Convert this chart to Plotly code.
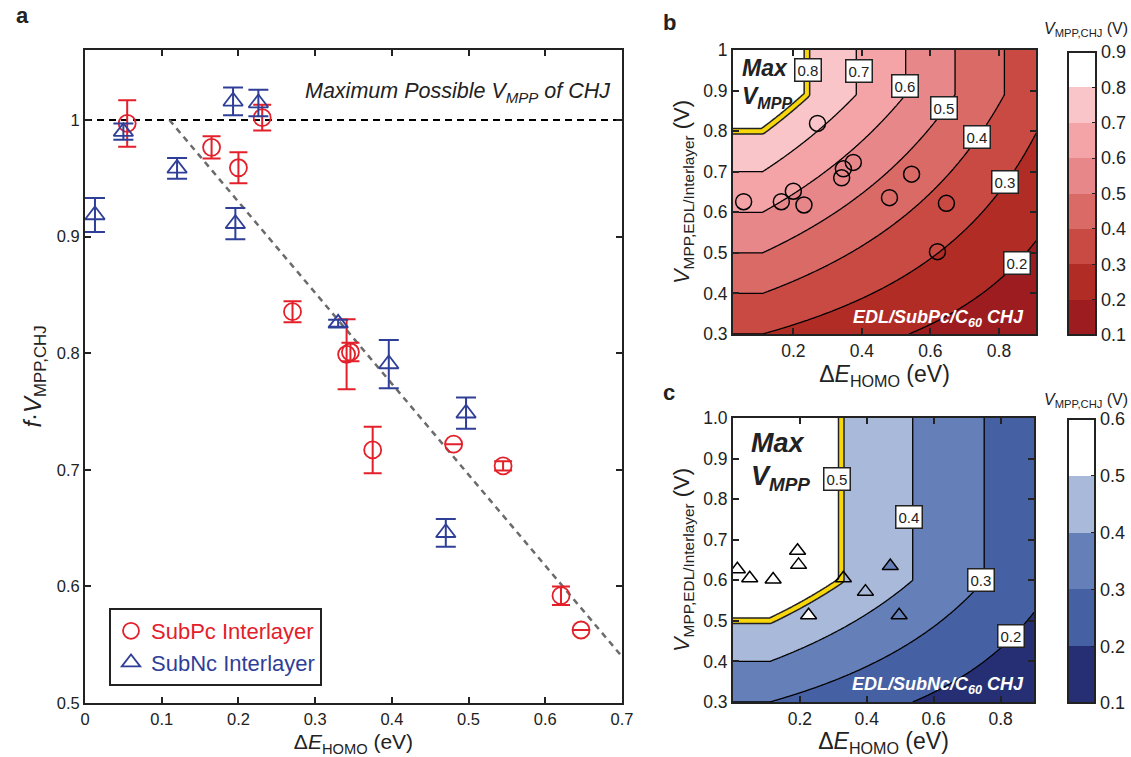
import numpy as np
import plotly.graph_objects as go

W, H = 1131, 757
FONT = "Liberation Sans, Arial, Helvetica, sans-serif"

# ---------------- data ----------------
# SubPc interlayer (red circles)
subpc_dE = [0.055, 0.165, 0.200, 0.231, 0.2705, 0.341, 0.346, 0.375, 0.4805, 0.545, 0.6205, 0.6466]
subpc_fV = [0.997, 0.9765, 0.959, 1.002, 0.8356, 0.799, 0.801, 0.717, 0.722, 0.7033, 0.592, 0.5626]
subpc_err = [0.020, 0.0095, 0.0133, 0.011, 0.009, 0.030, 0.008, 0.020, 0.0, 0.004, 0.008, 0.0]
subpc_Vedl = [0.626, 0.626, 0.652, 0.618, 0.819, 0.685, 0.707, 0.723, 0.636, 0.694, 0.503, 0.622]

# SubNc interlayer (blue triangles)
subnc_dE = [0.013, 0.050, 0.120, 0.193, 0.196, 0.226, 0.330, 0.396, 0.4703, 0.4967]
subnc_fV = [0.9185, 0.990, 0.9585, 1.016, 0.911, 1.0145, 0.8256, 0.7907, 0.646, 0.7485]
subnc_err = [0.0146, 0.007, 0.0089, 0.0119, 0.0134, 0.0114, 0.003, 0.0207, 0.0119, 0.0134]
subnc_Vedl = [0.627, 0.605, 0.602, 0.673, 0.638, 0.514, 0.605, 0.572, 0.635, 0.514]

# model parameters (loss factor vs HOMO offset)
dE_onset = 0.11
loss_slope = 0.78
Vcap_subpc = 0.89
Vcap_subnc = 0.60

# contour levels / colours
levels_b = [0.1, 0.2, 0.3, 0.4, 0.5, 0.6, 0.7, 0.8, 0.9]
colors_b = ["#9c1c1f", "#b22c26", "#c84a43", "#d96a66", "#e8878a", "#f4a3a7", "#f9c5c8", "#ffffff"]
levels_c = [0.1, 0.2, 0.3, 0.4, 0.5, 0.6]
colors_c = ["#262f73", "#4560a3", "#6580b9", "#a8b9d9", "#ffffff"]

subnc_fill = ["#ffffff", "#ffffff", "#ffffff", "#ffffff", "#ffffff", "#ffffff",
              "rgba(0,0,0,0)", "rgba(0,0,0,0)", "#6580b9", "rgba(0,0,0,0)"]

RED = "#e3202a"
BLUE = "#2f3f98"


def loss(dE):
    dE = np.asarray(dE, dtype=float)
    return np.minimum(1.0, 1.0 - loss_slope * (dE - dE_onset))


def surface(xr, yr, cap, n=301):
    xs = np.linspace(xr[0], xr[1], n)
    ys = np.linspace(yr[0], yr[1], n)
    X, Y = np.meshgrid(xs, ys)
    Z = np.minimum(Y, cap) * loss(X)
    return xs, ys, Z


def stepped(colors):
    n = len(colors)
    cs = []
    for i, c in enumerate(colors):
        cs.append([i / n, c])
        cs.append([(i + 1) / n, c])
    return cs


def fill_scale(colors):
    # contour fill samples band midpoints at s=(k+1)/nb
    nb = len(colors)
    cs = [[0.0, colors[0]]]
    for k, c in enumerate(colors):
        cs.append([(k + 1) / nb, c])
    return cs


fig = go.Figure()

# ---------------- panel a ----------------
xa = [0, 0.7]
fig.add_trace(go.Scatter(x=xa, y=[1, 1], mode="lines", showlegend=False,
                         line=dict(color="black", width=2, dash="7px,5px"), xaxis="x", yaxis="y"))
xl = np.array([dE_onset, 0.7])
fig.add_trace(go.Scatter(x=xl, y=loss(xl), mode="lines", showlegend=False,
                         line=dict(color="#6b6b6b", width=2.5, dash="6px,5px"), xaxis="x", yaxis="y"))
fig.add_trace(go.Scatter(
    x=subpc_dE, y=subpc_fV, mode="markers", name="<span style='color:%s'>SubPc Interlayer</span>" % RED,
    marker=dict(symbol="circle-open", size=17, color=RED, line=dict(width=1.8, color=RED)),
    error_y=dict(type="data", array=subpc_err, color=RED, thickness=2, width=9),
    xaxis="x", yaxis="y"))
fig.add_trace(go.Scatter(
    x=subnc_dE, y=subnc_fV, mode="markers", name="<span style='color:%s'>SubNc Interlayer</span>" % BLUE,
    marker=dict(symbol="triangle-up-open", size=17, color=BLUE, line=dict(width=1.8, color=BLUE)),
    error_y=dict(type="data", array=subnc_err, color=BLUE, thickness=2, width=10),
    xaxis="x", yaxis="y"))

# ---------------- panel b ----------------
xr_b = [0.024, 0.908]
xs, ys, Zb = surface(xr_b, [0.3, 1.0], Vcap_subpc)
fig.add_trace(go.Contour(
    x=xs, y=ys, z=Zb, autocontour=False, showlegend=False,
    contours=dict(start=levels_b[0], end=levels_b[-2], size=0.1, coloring="fill"),
    colorscale=fill_scale(colors_b), showscale=False,
    line=dict(color="black", width=1.3), xaxis="x2", yaxis="y2", hoverinfo="skip"))
for col, wd in (("#222222", 7), ("#f7d70c", 4)):
    fig.add_trace(go.Contour(
        x=xs, y=ys, z=Zb, autocontour=False, showlegend=False,
        contours=dict(start=0.8, end=0.8, size=0.1, coloring="none"),
        showscale=False, line=dict(color=col, width=wd), xaxis="x2", yaxis="y2", hoverinfo="skip"))
fig.add_trace(go.Scatter(
    x=subpc_dE, y=subpc_Vedl, mode="markers", showlegend=False,
    marker=dict(symbol="circle", size=16, color="rgba(0,0,0,0)", line=dict(width=1.5, color="black")),
    xaxis="x2", yaxis="y2"))
fig.add_trace(go.Scatter(
    x=[None], y=[None], mode="markers", showlegend=False, xaxis="x2", yaxis="y2",
    marker=dict(color=[0.5], cmin=levels_b[0], cmax=levels_b[-1], colorscale=stepped(colors_b), showscale=True,
                colorbar=dict(x=1068 / W, xanchor="left", xpad=0, ypad=0, thickness=28, thicknessmode="pixels",
                              len=(335 - 52) / H, lenmode="fraction", y=1 - (52 + 335) / 2 / H, yanchor="middle",
                              outlinewidth=2, outlinecolor="#222", tickvals=levels_b, ticks="inside",
                              ticklen=5, tickcolor="#222", tickfont=dict(size=18, family=FONT, color="#222")))))

# ---------------- panel c ----------------
xr_c = [0.0, 0.9]
xs, ys, Zc = surface(xr_c, [0.3, 1.0], Vcap_subnc)
fig.add_trace(go.Contour(
    x=xs, y=ys, z=Zc, autocontour=False, showlegend=False,
    contours=dict(start=levels_c[0], end=levels_c[-2], size=0.1, coloring="fill"),
    colorscale=fill_scale(colors_c), showscale=False,
    line=dict(color="black", width=1.3), xaxis="x3", yaxis="y3", hoverinfo="skip"))
for col, wd in (("#222222", 7), ("#f7d70c", 4)):
    fig.add_trace(go.Contour(
        x=xs, y=ys, z=Zc, autocontour=False, showlegend=False,
        contours=dict(start=0.5, end=0.5, size=0.1, coloring="none"),
        showscale=False, line=dict(color=col, width=wd), xaxis="x3", yaxis="y3", hoverinfo="skip"))
fig.add_trace(go.Scatter(
    x=subnc_dE, y=subnc_Vedl, mode="markers", showlegend=False,
    marker=dict(symbol="triangle-up", size=14, color=subnc_fill, line=dict(width=1.5, color="black")),
    xaxis="x3", yaxis="y3"))
fig.add_trace(go.Scatter(
    x=[None], y=[None], mode="markers", showlegend=False, xaxis="x3", yaxis="y3",
    marker=dict(color=[0.3], cmin=levels_c[0], cmax=levels_c[-1], colorscale=stepped(colors_c), showscale=True,
                colorbar=dict(x=1068 / W, xanchor="left", xpad=0, ypad=0, thickness=27, thicknessmode="pixels",
                              len=(703 - 419) / H, lenmode="fraction", y=1 - (419 + 703) / 2 / H, yanchor="middle",
                              outlinewidth=2, outlinecolor="#222", tickvals=levels_c, ticks="inside",
                              ticklen=5, tickcolor="#222", tickfont=dict(size=18, family=FONT, color="#222")))))

# ---------------- layout ----------------
def ax(domain, rng, tickvals, ticktext, size, title, tsize, standoff, anchor):
    return dict(domain=domain, range=rng, tickvals=tickvals, ticktext=ticktext, showgrid=False, zeroline=False,
                anchor=anchor, automargin=False,
                showline=True, linecolor="#222", linewidth=2, mirror="ticks", ticks="inside", ticklen=6,
                tickwidth=1.5, tickcolor="#222", tickfont=dict(size=size, family=FONT, color="#222"),
                title=dict(text=title, font=dict(size=tsize, family=FONT, color="#222"), standoff=standoff))

xt_a = [0, 0.1, 0.2, 0.3, 0.4, 0.5, 0.6, 0.7]
yt_a = [0.5, 0.6, 0.7, 0.8, 0.9, 1.0]
xt_bc = [0.2, 0.4, 0.6, 0.8]
yt_bc = [0.3, 0.4, 0.5, 0.6, 0.7, 0.8, 0.9, 1.0]
dEtitle = "Δ<i>E</i><sub>HOMO</sub> (eV)"
Vtitle = "<i>V</i><sub>MPP,EDL/Interlayer</sub> (V)"

fig.update_layout(
    width=W, height=H, margin=dict(l=0, r=0, t=0, b=0, autoexpand=False),
    paper_bgcolor="white", plot_bgcolor="white",
    font=dict(family=FONT, color="#222"),
    xaxis=ax([85 / W, 622 / W], [0, 0.7], xt_a, ["0", "0.1", "0.2", "0.3", "0.4", "0.5", "0.6", "0.7"], 16.5,
             dEtitle, 21, 8, "y"),
    yaxis=ax([1 - 703 / H, 1 - 50 / H], [0.5, 1.06], yt_a, ["0.5", "0.6", "0.7", "0.8", "0.9", "1"], 16.5,
             "<i>f</i>·<i>V</i><sub>MPP,CHJ</sub>", 24, 8, "x"),
    xaxis2=ax([733 / W, 1036 / W], xr_b, xt_bc, ["0.2", "0.4", "0.6", "0.8"], 17.5, dEtitle, 23, 2, "y2"),
    yaxis2=ax([1 - 334 / H, 1 - 50 / H], [0.3, 1.0], yt_bc, ["0.3", "0.4", "0.5", "0.6", "0.7", "0.8", "0.9", "1"],
              17.5, Vtitle, 22, 7, "x2"),
    xaxis3=ax([733 / W, 1034 / W], xr_c, xt_bc, ["0.2", "0.4", "0.6", "0.8"], 17.5, dEtitle, 23, 2, "y3"),
    yaxis3=ax([1 - 702 / H, 1 - 418 / H], [0.3, 1.0], yt_bc,
              ["0.3", "0.4", "0.5", "0.6", "0.7", "0.8", "0.9", "1.0"], 17.5, Vtitle, 22, 7, "x3"),
    legend=dict(x=109 / W, y=1 - 608 / H, xanchor="left", yanchor="top", bordercolor="#222", borderwidth=2,
                bgcolor="white", font=dict(size=22, family=FONT), tracegroupgap=0),
    showlegend=True,
)
fig.update_xaxes(layer="above traces")
fig.update_yaxes(layer="above traces")

ann = []


def paper(text, px, py, size, xanchor="center", color="#222", **kw):
    ann.append(dict(text=text, x=px / W, y=1 - py / H, xref="paper", yref="paper", showarrow=False,
                    xanchor=xanchor, yanchor="middle", font=dict(size=size, family=FONT, color=color), **kw))


paper("<b>a</b>", 22, 15, 22)
paper("<b>b</b>", 669, 22, 22)
paper("<b>c</b>", 669, 392, 22)
paper("<i>Maximum Possible V<sub>MPP</sub> of CHJ</i>", 612, 92, 21.5, xanchor="right")
paper("<i>V</i><sub>MPP,CHJ</sub> (V)", 1086, 29, 16)
paper("<i>V</i><sub>MPP,CHJ</sub> (V)", 1086, 400, 16)
paper("<b><i>Max</i></b>", 740, 68, 23, xanchor="left")
paper("<b><i>V</i></b><sub><b><i>MPP</i></b></sub>", 740, 97, 23, xanchor="left")
paper("<b><i>Max</i></b>", 749, 443, 27, xanchor="left")
paper("<b><i>V</i></b><sub><b><i>MPP</i></b></sub>", 749, 478, 27, xanchor="left")
paper("<b><i>EDL/SubPc/C<sub>60</sub> CHJ</i></b>", 1026, 318, 18, xanchor="right", color="white")
paper("<b><i>EDL/SubNc/C<sub>60</sub> CHJ</i></b>", 1026, 685, 18, xanchor="right", color="white")

# contour label boxes
labels_b = [(0.242, 0.951, 0.8), (0.392, 0.947, 0.7), (0.526, 0.911, 0.6), (0.641, 0.858, 0.5),
            (0.735, 0.785, 0.4), (0.818, 0.675, 0.3), (0.852, 0.474, 0.2)]
labels_c = [(0.31, 0.849, 0.5), (0.526, 0.757, 0.4), (0.742, 0.601, 0.3), (0.832, 0.463, 0.2)]
for (lx, ly, lv) in labels_b:
    ann.append(dict(text="%.1f" % lv, x=lx, y=ly, xref="x2", yref="y2", showarrow=False, bgcolor="white",
                    bordercolor="#222", borderwidth=1.5, borderpad=2, font=dict(size=15, family=FONT, color="#222")))
for (lx, ly, lv) in labels_c:
    ann.append(dict(text="%.1f" % lv, x=lx, y=ly, xref="x3", yref="y3", showarrow=False, bgcolor="white",
                    bordercolor="#222", borderwidth=1.5, borderpad=2, font=dict(size=15, family=FONT, color="#222")))

fig.update_layout(annotations=ann)
fig.write_html("out.html", config={"displayModeBar": False},
               post_script="document.body.style.margin='0px';")
